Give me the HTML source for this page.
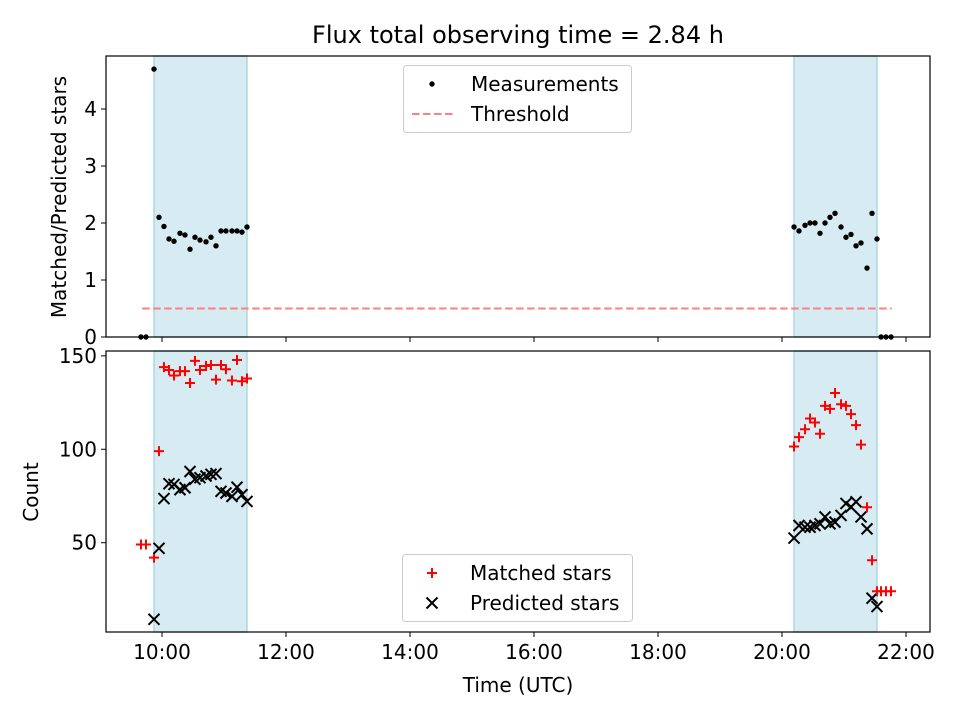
<!DOCTYPE html>
<html><head><meta charset="utf-8"><style>
body{margin:0;background:#fff;}
svg{display:block;font-family:"DejaVu Sans","Liberation Sans",sans-serif;}
</style></head><body>
<svg id="chart" width="960" height="720" viewBox="0 0 960 720">
<text x="518" y="43" text-anchor="middle" font-size="24">Flux total observing time = 2.84 h</text>
<g id="gtop"></g>
<g id="gbot"></g>
<text x="66" y="197" text-anchor="middle" font-size="20" transform="rotate(-90 66 197)">Matched/Predicted stars</text>
<text x="38" y="492" text-anchor="middle" font-size="20" transform="rotate(-90 38 492)">Count</text>
<text x="518" y="692" text-anchor="middle" font-size="20">Time (UTC)</text>
<g>
<rect x="403.5" y="65.5" width="228" height="67" rx="3" fill="#fff" fill-opacity="0.85" stroke="#ccc"/>
<circle cx="432" cy="84" r="2.7" fill="#000"/>
<text x="471" y="91" font-size="20">Measurements</text>
<line x1="412" x2="454" y1="114" y2="114" stroke="#ff7f7f" stroke-width="2" stroke-dasharray="7.5,3.5"/>
<text x="471" y="121" font-size="20">Threshold</text>
</g>
<g>
<rect x="402.5" y="554.5" width="230" height="67" rx="3" fill="#fff" fill-opacity="0.85" stroke="#ccc"/>
<path d="M427,573H437M432,568V578" stroke="#f00" stroke-width="2"/>
<text x="470" y="580" font-size="20">Matched stars</text>
<path d="M426.5,597.5L437.5,608.5M426.5,608.5L437.5,597.5" stroke="#000" stroke-width="2"/>
<text x="470" y="610" font-size="20">Predicted stars</text>
</g>
</svg>
<script>
const times = [9.661,9.742,9.871,9.952,10.032,10.113,10.194,10.290,10.371,10.452,10.532,10.613,10.710,10.790,10.871,10.952,11.032,11.129,11.210,11.290,11.371,
20.194,20.274,20.371,20.452,20.532,20.613,20.694,20.774,20.855,20.952,21.032,21.113,21.194,21.274,21.371,21.452,21.532,21.597,21.677,21.758];
const ratio = [0,0,4.7,2.1,1.94,1.72,1.68,1.82,1.79,1.54,1.75,1.70,1.67,1.75,1.60,1.86,1.86,1.86,1.86,1.84,1.93,
1.93,1.86,1.96,2.0,2.0,1.82,2.0,2.1,2.17,1.93,1.75,1.80,1.60,1.65,1.21,2.17,1.72,0,0,0];
const matched = [49,49,42,99,144,142.4,139.5,141.8,141.8,135.5,147.3,142.4,144.6,145.1,137.3,145.1,142.8,136.8,147.8,136.4,137.9,
101.5,106.5,110.7,116.5,114.3,108.3,123.2,121.6,130.1,124.1,123.2,118.8,112.9,102.5,69,40.6,24,24,24,24];
const predicted = [null,null,9,47,73.6,81.6,81.2,78.4,79.4,88.1,84.0,84.8,85.7,86.6,87.0,77.5,76.6,74.8,79.7,75.7,72.1,
52.5,59.2,58.3,58.3,59.2,60.1,63.8,60.1,61,64.6,71,69.1,71.9,63.8,57.4,20.3,15.8,null,null,null];
const spans = [[9.871,11.371],[20.194,21.532]];
const threshold = 0.5;
const thrRange = [9.68,21.77];
const xTicks = [10,12,14,16,18,20,22];
const xTickLabels = ["10:00","12:00","14:00","16:00","18:00","20:00","22:00"];
const topTicks = [0,1,2,3,4];
const botTicks = [50,100,150];

const NS="http://www.w3.org/2000/svg";
const L=106,R=930;
const xMin=9.097,xMax=22.387;
const X=t=>L+(t-xMin)/(xMax-xMin)*(R-L);
const PT={top:56,bot:337,min:0,max:4.93};
const PB={top:351,bot:632,min:2.2,max:152.6};
const Y=(p,v)=>p.bot-(v-p.min)/(p.max-p.min)*(p.bot-p.top);
function mk(parent,tag,attrs,text){const e=document.createElementNS(NS,tag);for(const k in attrs)e.setAttribute(k,attrs[k]);if(text!==undefined)e.textContent=text;parent.appendChild(e);return e;}

function panel(g,p){
  spans.forEach(s=>{
    const r=mk(g,'rect',{x:X(s[0]),y:p.top,width:X(s[1])-X(s[0]),height:p.bot-p.top,fill:'#add8e6','fill-opacity':0.5,stroke:'#add8e6','stroke-width':1.5});
    
    
  });
  xTicks.forEach(t=>{
    const l=mk(g,'line',{x1:X(t),x2:X(t),y1:p.bot,y2:p.bot+5,stroke:'#000','stroke-width':1});
    
    
  });
}
const gTop=document.getElementById('gtop'),gBot=document.getElementById('gbot');
panel(gTop,PT);panel(gBot,PB);

const th=mk(gTop,'line',{x1:X(thrRange[0]),x2:X(thrRange[1]),y1:Y(PT,threshold),y2:Y(PT,threshold),stroke:'#ff7f7f','stroke-width':2,'stroke-dasharray':'7.5,3.5'});


times.forEach((t,i)=>{
  const c=mk(gTop,'circle',{cx:X(t),cy:Y(PT,ratio[i]),r:2.7,fill:'#000'});
  
  
});
times.forEach((t,i)=>{
  const v=matched[i];
  if(v!==null){const x=X(t),y=Y(PB,v);
    const p=mk(gBot,'path',{d:`M${x-5},${y}H${x+5}M${x},${y-5}V${y+5}`,stroke:'#ff0000','stroke-width':2,fill:'none'});
    
    }
  const w=predicted[i];
  if(w!==null){const x=X(t),y=Y(PB,w);
    const p=mk(gBot,'path',{d:`M${x-5.5},${y-5.5}L${x+5.5},${y+5.5}M${x-5.5},${y+5.5}L${x+5.5},${y-5.5}`,stroke:'#000','stroke-width':2,fill:'none'});
    
    }
});
[[gTop,PT,topTicks],[gBot,PB,botTicks]].forEach(([g,p,ticks])=>{
  const f=mk(g,'rect',{x:L,y:p.top,width:R-L,height:p.bot-p.top,fill:'none',stroke:'#000','stroke-width':1.2});
  
  
  ticks.forEach(v=>{
    const y=Y(p,v);
    const l=mk(g,'line',{x1:L-5,x2:L,y1:y,y2:y,stroke:'#000','stroke-width':1});
    
    
    const tx=mk(g,'text',{x:L-9,y:y+7,'text-anchor':'end','font-size':20},String(v));
    
    
  });
});
xTicks.forEach((t,i)=>{
  const tx=mk(gBot,'text',{x:X(t),y:PB.bot+27,'text-anchor':'middle','font-size':20},xTickLabels[i]);
  
  
});
</script>
</body></html>
